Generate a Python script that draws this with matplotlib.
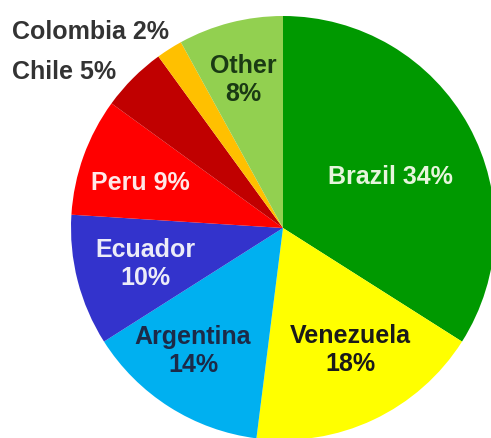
import matplotlib
matplotlib.use("Agg")
import matplotlib.pyplot as plt

# Share of total by country, clockwise from 12 o'clock
countries = ["Brazil", "Venezuela", "Argentina", "Ecuador", "Peru", "Chile", "Colombia", "Other"]
shares = [34, 18, 14, 10, 9, 5, 2, 8]

colors = ["#009900", "#FFFF00", "#00B0F0", "#3333CC",
          "#FF0000", "#C00000", "#FFC000", "#92D050"]

# label layout: (x, y) in pixels from top-left, text colour, split onto two lines?
label_layout = {
    "Brazil":    (390, 177, "#E6F5DC", False),
    "Venezuela": (350, 350, "#1A1A1A", True),
    "Argentina": (193, 351, "#1C2A48", True),
    "Ecuador":   (145, 264, "#ECECF8", True),
    "Peru":      (140, 183, "#FFE8E8", False),
    "Other":     (243, 80,  "#1A3A14", True),
    "Chile":     (12, 72,   "#333333", False),
    "Colombia":  (12, 32,   "#333333", False),
}

W, H = 491, 438
fig = plt.figure(figsize=(W / 100, H / 100), dpi=100)
ax = fig.add_axes([0, 0, 1, 1])

ax.pie(shares, colors=colors, startangle=90, counterclock=False,
       center=(283, H - 228), radius=212, frame=True,
       wedgeprops=dict(linewidth=0))
ax.set_xlim(0, W)
ax.set_ylim(0, H)
ax.set_aspect("equal")
ax.axis("off")

font = dict(family="Liberation Sans", weight="bold", fontsize=18)
for name, pct in zip(countries, shares):
    x, y, col, two_lines = label_layout[name]
    sep = "\n" if two_lines else " "
    text = f"{name}{sep}{pct}%"
    if name in ("Chile", "Colombia"):
        ax.text(x, H - y, text, ha="left", va="center", color=col, **font)
    else:
        ax.text(x, H - y, text, ha="center", va="center", color=col,
                linespacing=1.2, multialignment="center", **font)

fig.savefig("out.png", dpi=100)
